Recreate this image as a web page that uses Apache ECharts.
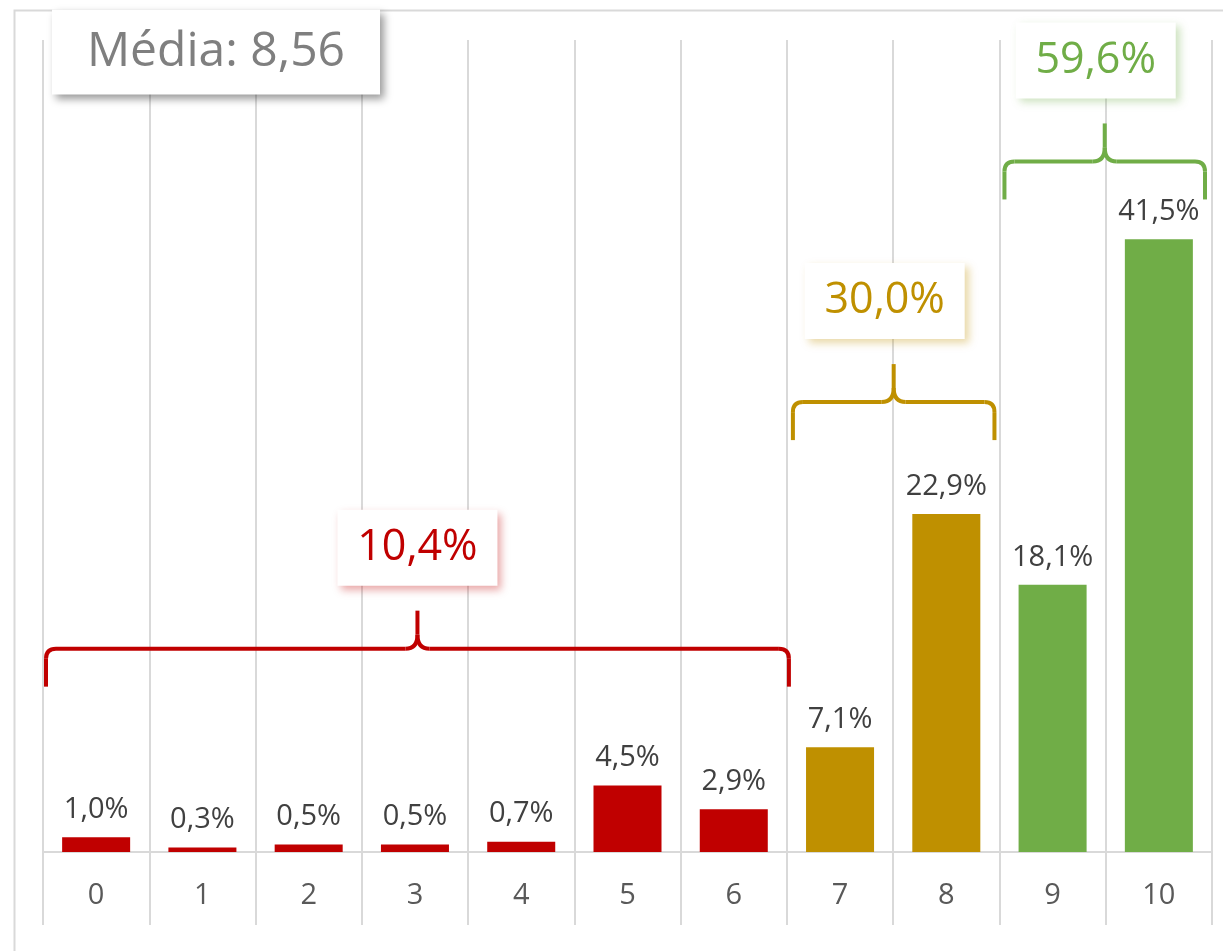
<!DOCTYPE html>
<html>
<head>
<meta charset="utf-8">
<script src="https://cdn.jsdelivr.net/npm/echarts@6/dist/echarts.min.js"></script>
<style>
  html, body { margin: 0; padding: 0; background: #fff; }
  #chart { width: 1223px; height: 951px; }
</style>
</head>
<body>
<div id="chart"></div>
<script>
var categories = ['0', '1', '2', '3', '4', '5', '6', '7', '8', '9', '10'];
var values = [1.0, 0.3, 0.5, 0.5, 0.7, 4.5, 2.9, 7.1, 22.9, 18.1, 41.5];
// groups: first and last category index, total shown above the brace
var groupRanges = [[0, 6], [7, 8], [9, 10]];
var groupTotals = ['10,4%', '30,0%', '59,6%'];
var meanLabel = 'Média: 8,56';

var groupColors = ['#C00000', '#BF9000', '#70AD47'];
var groupShadows = ['rgba(192,0,0,0.35)', 'rgba(191,144,0,0.35)', 'rgba(112,173,71,0.35)'];
// brace end height (axis units), pixel insets of the ends, box shift
var braceBase = [11.2, 27.9, 44.2];
var braceInsetL = [3, 6, 5];
var braceInsetR = [-2, 5, 7];
var boxShift = [0, -9, -9];
var FONT = '"Open Sans", "Noto Sans", sans-serif';

function fmt(v) {
	return v.toFixed(1).replace('.', ',') + '%';
}

function colorOf(i) {
	for (var g = 0; g < groupRanges.length; g++) {
		if (i >= groupRanges[g][0] && i <= groupRanges[g][1]) return groupColors[g];
	}
	return groupColors[0];
}

var myChart = echarts.init(document.getElementById('chart'));

var option = {
	backgroundColor: '#fff',
	animation: false,
	grid: {
		left: 43,
		right: 11,
		top: 40,
		bottom: 99
	},
	xAxis: {
		type: 'category',
		data: categories,
		boundaryGap: true,
		axisLine: { lineStyle: { color: '#d9d9d9', width: 2 } },
		axisTick: { show: true, interval: 0, length: 73, lineStyle: { color: '#d9d9d9', width: 2 } },
		axisLabel: { interval: 0, margin: 29, color: '#595959', fontSize: 29, fontFamily: FONT },
		splitLine: { show: true, interval: 0, lineStyle: { color: '#d9d9d9', width: 2 } }
	},
	yAxis: {
		type: 'value',
		min: 0,
		max: 55,
		show: false,
		splitLine: { show: false }
	},
	series: [{
		type: 'bar',
		barWidth: '64%',
		data: values.map(function (v, i) {
			return { value: v, itemStyle: { color: colorOf(i) } };
		}),
		label: {
			show: true,
			position: 'top',
			distance: 13,
			color: '#404040',
			fontSize: 29,
			fontFamily: FONT,
			formatter: function (p) { return fmt(p.value); }
		}
	}]
};

myChart.setOption(option);

function line(pts, color) {
	return {
		type: 'polyline',
		shape: { points: pts },
		style: { fill: null, stroke: color, lineWidth: 4 }
	};
}

function curve(a, c, b, color) {
	return {
		type: 'bezierCurve',
		shape: { x1: a[0], y1: a[1], cpx1: c[0], cpy1: c[1], x2: b[0], y2: b[1] },
		style: { fill: null, stroke: color, lineWidth: 4 }
	};
}

function brace(x0, x1, yb, yh, yt, color) {
	var xc = (x0 + x1) / 2;
	return [
		line([[x0, yb], [x0, yh + 10]], color),
		curve([x0, yh + 10], [x0, yh], [x0 + 10, yh], color),
		line([[x0 + 10, yh], [xc - 12, yh]], color),
		curve([xc - 12, yh], [xc, yh], [xc, yh - 14], color),
		line([[xc, yh - 14], [xc, yt]], color),
		curve([xc, yh - 14], [xc, yh], [xc + 12, yh], color),
		line([[xc + 12, yh], [x1 - 10, yh]], color),
		curve([x1 - 10, yh], [x1, yh], [x1, yh + 10], color),
		line([[x1, yh + 10], [x1, yb]], color)
	];
}

function boxGroup(cx, cy, w, h, text, color, shadow, size) {
	return {
		type: 'group',
		children: [{
			type: 'rect',
			shape: { x: cx - w / 2, y: cy - h / 2, width: w, height: h },
			style: {
				fill: '#fff',
				shadowBlur: 8,
				shadowOffsetX: 4,
				shadowOffsetY: 4,
				shadowColor: shadow
			}
		}, {
			type: 'text',
			x: cx,
			y: cy,
			style: {
				text: text,
				fill: color,
				font: size + 'px ' + FONT,
				align: 'center',
				verticalAlign: 'middle'
			}
		}]
	};
}

var half = (myChart.convertToPixel({ xAxisIndex: 0 }, 1) - myChart.convertToPixel({ xAxisIndex: 0 }, 0)) / 2;
var elements = [{
	type: 'rect',
	z: -10,
	shape: { x: 14.5, y: 10.5, width: 1300, height: 1000 },
	style: { fill: null, stroke: '#d9d9d9', lineWidth: 2 }
}];

groupRanges.forEach(function (r, g) {
	var x0 = myChart.convertToPixel({ xAxisIndex: 0 }, r[0]) - half + braceInsetL[g];
	var x1 = myChart.convertToPixel({ xAxisIndex: 0 }, r[1]) + half - braceInsetR[g];
	var yb = myChart.convertToPixel({ yAxisIndex: 0 }, braceBase[g]);
	var yh = yb - 38;
	var yt = yh - 38;
	elements = elements.concat(brace(x0, x1, yb, yh, yt, groupColors[g]));
	var cx = (x0 + x1) / 2 + boxShift[g];
	elements.push(boxGroup(cx, yt - 25 - 38, 160, 76, groupTotals[g], groupColors[g], groupShadows[g], 43));
});

elements.push(boxGroup(216, 52, 328, 85, meanLabel, '#7f7f7f', 'rgba(0,0,0,0.4)', 48));

myChart.setOption({ graphic: elements });
</script>
</body>
</html>
